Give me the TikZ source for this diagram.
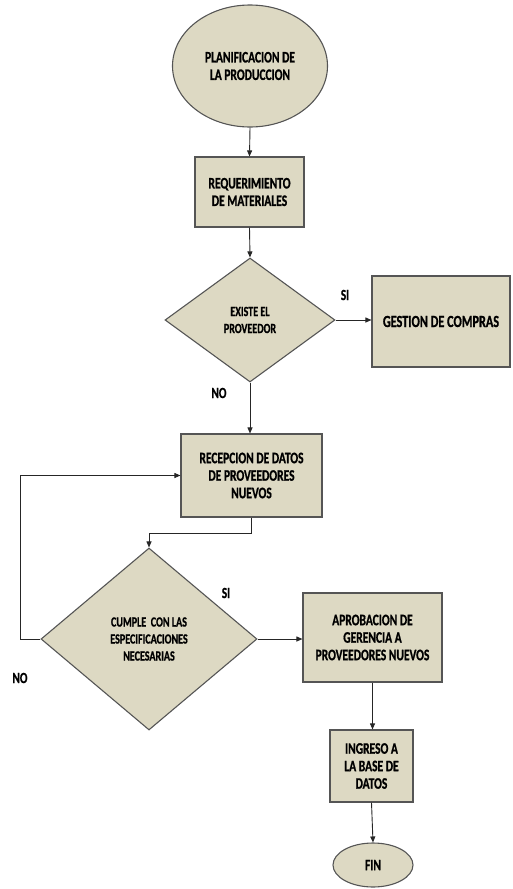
\documentclass[tikz,border=0pt]{standalone}
\usepackage{fontspec}
\setmainfont{Carlito}[FakeStretch=0.72, BoldFeatures={FakeBold=0.9}]
\usetikzlibrary{shapes.geometric,arrows.meta}
\definecolor{boxfill}{RGB}{221,217,195}
\definecolor{boxline}{RGB}{85,85,85}
\begin{document}
\begin{tikzpicture}[x=1pt,y=-1pt,
  base/.style={draw=boxline, fill=boxfill, line width=1.1pt, align=center, inner sep=0pt,
    font=\bfseries\fontsize{16}{17.5}\selectfont},
  procbox/.style={base, rectangle},
  decision/.style={base, diamond, font=\bfseries\fontsize{14}{17}\selectfont},
  terminal/.style={base, ellipse},
  flow/.style={draw=black!85, line width=0.9pt, -{Triangle[length=6pt,width=5pt]}},
  lbl/.style={font=\bfseries\fontsize{15.5}{17}\selectfont, inner sep=0pt}
]
\useasboundingbox (0,0) rectangle (512,889);

\node[terminal, minimum width=155pt, minimum height=122pt] (start) at (250,66) {PLANIFICACION DE\\LA PRODUCCION};
\node[procbox, minimum width=109pt, minimum height=70pt] (r1) at (249.5,192) {REQUERIMIENTO\\DE MATERIALES};
\node[decision, minimum width=170pt, minimum height=124pt] (d1) at (250,320) {EXISTE EL\\PROVEEDOR};
\node[procbox, minimum width=138pt, minimum height=91pt, font=\bfseries\fontsize{17}{17}\selectfont] (gest) at (441,321.5) {GESTION DE COMPRAS};
\node[procbox, minimum width=141pt, minimum height=83pt] (r2) at (251.5,475.5) {RECEPCION DE DATOS\\DE PROVEEDORES\\NUEVOS};
\node[decision, minimum width=216pt, minimum height=182pt] (d2) at (149,639) {CUMPLE~~CON LAS\\ESPECIFICACIONES\\NECESARIAS};
\node[procbox, minimum width=139pt, minimum height=89pt] (r3) at (372.5,637.5) {APROBACION DE\\GERENCIA A\\PROVEEDORES NUEVOS};
\node[procbox, minimum width=83pt, minimum height=72pt] (r4) at (371.5,766) {INGRESO A\\LA BASE DE\\DATOS};
\node[terminal, minimum width=80pt, minimum height=44pt] (fin) at (373,865) {FIN};

\node[lbl] (si1) at (345,295) {SI};
\node[lbl] (no1) at (219,393) {NO};
\node[lbl] (si2) at (226,593) {SI};
\node[lbl] (no2) at (20,678) {NO};

\coordinate (loopc) at (20,639);

\draw[flow] (start.south) -- (r1.north);
\draw[flow] (r1.south) -- (d1.north);
\draw[flow] (d1.east) -- (d1.east -| gest.west);
\draw[flow] (d1.south) -- (d1.south |- r2.north);
\draw[flow] (r2.south) -- ++(0,16) -| (d2.north);
\draw[flow] (d2.west) -- (loopc) |- (r2.west);
\draw[flow] (d2.east) -- (d2.east -| r3.west);
\draw[flow] (r3.south) -- (r3.south |- r4.north);
\draw[flow] (r4.south) -- (fin.north);
\end{tikzpicture}
\end{document}
